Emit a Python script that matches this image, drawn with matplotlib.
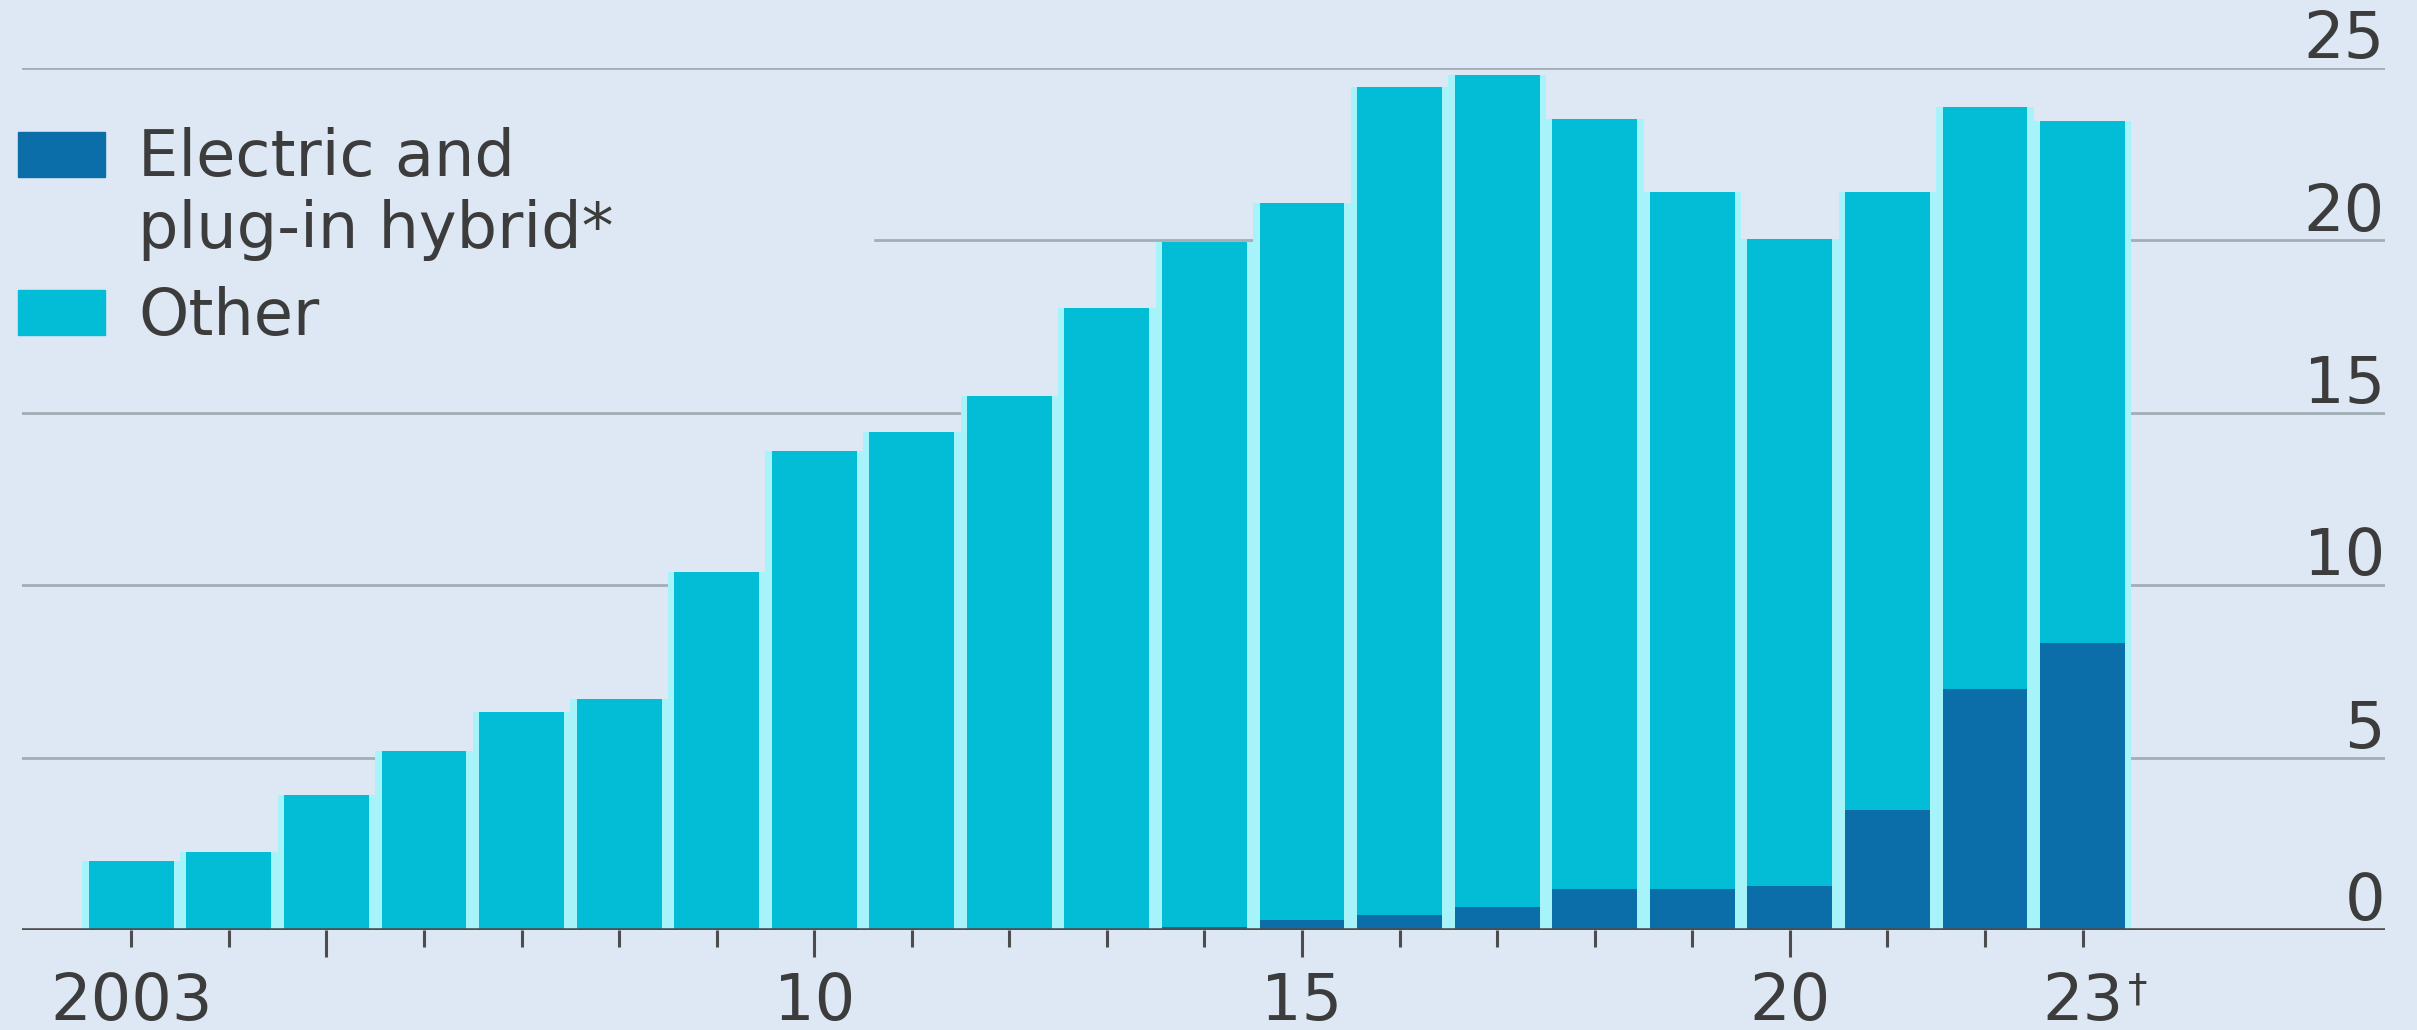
import matplotlib.pyplot as plt
from matplotlib.patches import Rectangle

# Datos (millones)
anios = list(range(2003, 2024))
total = [1.99, 2.25, 3.92, 5.18, 6.32, 6.69, 10.37, 13.9, 14.43, 15.48, 18.04,
         19.94, 21.08, 24.44, 24.8, 23.53, 21.4, 20.04, 21.4, 23.86, 23.45]
electricos = [0, 0, 0, 0, 0, 0, 0, 0, 0, 0, 0,
              0.08, 0.3, 0.44, 0.68, 1.18, 1.18, 1.28, 3.47, 6.98, 8.33]
otros = [t - e for t, e in zip(total, electricos)]

ticks_y = [0, 5, 10, 15, 20, 25]
etiquetas_x = {2003: "2003", 2010: "10", 2015: "15", 2020: "20", 2023: "23"}
ticks_largos = [2005, 2010, 2015, 2020]

# Colores
FONDO = "#dde8f4"
CIAN = "#03bdd6"
AZUL = "#0b6ea9"
HALO = "#a6f3fa"
TEXTO = "#3c3c3c"
GRIS = "#a3adb6"
EJE = "#4d4d4d"
FS = 46

plt.rcParams['font.family'] = ['DejaVu Sans']

fig = plt.figure(figsize=(24.17, 10.30), dpi=100, facecolor=FONDO)
ax = fig.add_axes([22 / 2417, 1 - 930 / 1030, 2363 / 2417, 862 / 1030])
ax.set_facecolor(FONDO)

# Franjas claras entre barras
ax.bar(anios, total, width=1.0, color=HALO, zorder=1.5)
# Barras apiladas
ax.bar(anios, electricos, width=0.87, color=AZUL, zorder=2)
ax.bar(anios, otros, width=0.87, bottom=electricos, color=CIAN, zorder=2)

ax.set_xlim(2001.88, 2026.1)
ax.set_ylim(0, 25)

# Lineas de cuadricula y etiquetas sobre ellas a la derecha
for v in ticks_y:
    if v == 0:
        ax.axhline(v, color=EJE, lw=2.6, zorder=3)
    else:
        ax.axhline(v, color=GRIS, lw=2.0, zorder=0.5)
    ax.annotate(str(v), xy=(1, v), xycoords=('axes fraction', 'data'),
                xytext=(0, 7), textcoords='offset points',
                ha='right', va='baseline', fontsize=FS, color=TEXTO,
                annotation_clip=False)

ax.set_yticks([])
for s in ax.spines.values():
    s.set_visible(False)

# Ticks del eje x
ax.set_xticks(anios)
ax.set_xticklabels([etiquetas_x.get(a, "") for a in anios])
ax.tick_params(axis='x', length=12.2, width=2.2, color=EJE, pad=17,
               labelsize=FS, labelcolor=TEXTO)
for a, tick in zip(anios, ax.xaxis.get_major_ticks()):
    if a in ticks_largos:
        tick.tick1line.set_markersize(19.4)

ax.annotate("\u2020", xy=(2023, 0), xycoords=('data', 'data'),
            xytext=(40, -30), textcoords='offset points',
            ha='center', va='top', fontsize=28, color=TEXTO,
            annotation_clip=False)

# Leyenda dibujada a mano (con fondo que tapa la cuadricula)
fig.add_artist(Rectangle((0, 1 - 262 / 1030), 873 / 2417, 40 / 1030,
                         color=FONDO, transform=fig.transFigure, zorder=1))

def cuadro(y_top, y_bot, color):
    fig.add_artist(Rectangle((18 / 2417, 1 - y_bot / 1030), 87 / 2417,
                             (y_bot - y_top) / 1030, color=color,
                             transform=fig.transFigure, zorder=2))

cuadro(132, 177, AZUL)
cuadro(290, 335, CIAN)
for texto, base in [("Electric and", 176), ("plug-in hybrid*", 248), ("Other", 335)]:
    fig.text(138 / 2417, 1 - base / 1030, texto, zorder=3,
             fontsize=FS, color=TEXTO, va='baseline', ha='left')

fig.savefig("out.png", dpi=100, facecolor=FONDO)
